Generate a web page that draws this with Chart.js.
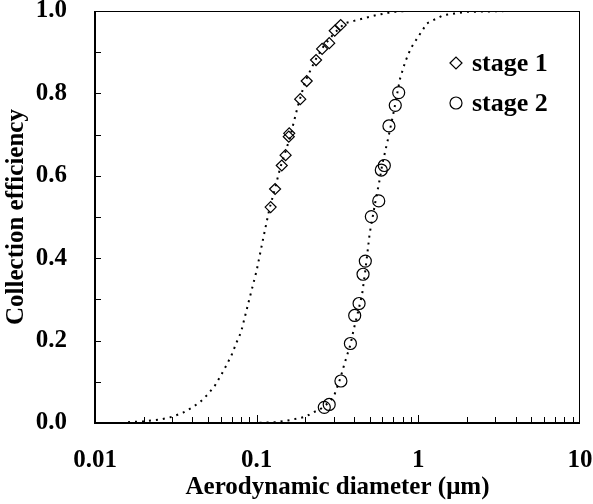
<!DOCTYPE html>
<html>
<head>
<meta charset="utf-8">
<script src="https://cdn.jsdelivr.net/npm/chart.js@4.4.0/dist/chart.umd.min.js"></script>
<style>
  html, body { margin: 0; padding: 0; background: #fff; }
</style>
</head>
<body>
<canvas id="effChart" width="593" height="504"></canvas>
<script>
// measured points
const stage1X = [0.122, 0.130, 0.143, 0.151, 0.158, 0.159, 0.186, 0.204, 0.233, 0.254, 0.281, 0.304, 0.331];
const stage1Y = [0.524, 0.568, 0.625, 0.650, 0.695, 0.703, 0.786, 0.830, 0.881, 0.908, 0.922, 0.952, 0.966];
const stage2X = [0.262, 0.281, 0.332, 0.380, 0.404, 0.430, 0.455, 0.470, 0.512, 0.569, 0.590, 0.616, 0.658, 0.720, 0.756];
const stage2Y = [0.038, 0.045, 0.102, 0.193, 0.261, 0.290, 0.361, 0.393, 0.501, 0.539, 0.614, 0.625, 0.721, 0.771, 0.802];

// dotted fit curves
const curve1X = [0.016, 0.020, 0.025, 0.030, 0.035, 0.040, 0.045, 0.050, 0.055, 0.060, 0.065, 0.070, 0.075, 0.080, 0.090, 0.100, 0.110, 0.120, 0.130, 0.140, 0.160, 0.180, 0.200, 0.230, 0.260, 0.300, 0.350, 0.400, 0.550, 0.700, 0.850];
const curve1Y = [0.002, 0.004, 0.008, 0.015, 0.025, 0.038, 0.052, 0.070, 0.090, 0.115, 0.140, 0.165, 0.195, 0.220, 0.300, 0.370, 0.450, 0.520, 0.570, 0.620, 0.690, 0.770, 0.830, 0.880, 0.915, 0.945, 0.970, 0.976, 0.990, 0.998, 1.000];
const curve2X = [0.07, 0.10, 0.13, 0.16, 0.20, 0.22, 0.25, 0.28, 0.30, 0.33, 0.35, 0.38, 0.40, 0.43, 0.45, 0.47, 0.49, 0.50, 0.55, 0.57, 0.60, 0.65, 0.70, 0.77, 0.83, 0.90, 1.00, 1.13, 1.43, 2.00, 3.70];
const curve2Y = [0.000, 0.000, 0.002, 0.007, 0.015, 0.024, 0.035, 0.050, 0.064, 0.110, 0.145, 0.190, 0.230, 0.280, 0.315, 0.370, 0.430, 0.460, 0.550, 0.580, 0.630, 0.690, 0.750, 0.835, 0.877, 0.910, 0.938, 0.970, 0.990, 0.998, 1.000];

const seriesNames = ['stage 1', 'stage 2'];

const xTickValues = [0.01, 0.1, 1, 10];
const xTickLabels = ['0.01', '0.1', '1', '10'];
const xMinorSteps = [2, 3, 4, 5, 6, 7, 8, 9];
const yTickValues = [0, 0.2, 0.4, 0.6, 0.8, 1.0];
const yTickLabels = ['0.0', '0.2', '0.4', '0.6', '0.8', '1.0'];
const yMinorValues = [0.1, 0.3, 0.5, 0.7, 0.9];

const FONT_FAMILY = "'Liberation Serif', 'Times New Roman', serif";

function toPoints(xs, ys) {
    return xs.map((x, i) => ({ x: x, y: ys[i] }));
}

// box frame + inward ticks
const framePlugin = {
    id: 'frame',
    afterDatasetsDraw(chart) {
        const ctx = chart.ctx;
        const a = chart.chartArea;
        const xs = chart.scales.x;
        const ys = chart.scales.y;
        ctx.save();
        ctx.strokeStyle = '#000';

        ctx.lineWidth = 1;
        ctx.beginPath();
        ctx.moveTo(a.left, a.top + 0.5);
        ctx.lineTo(a.right, a.top + 0.5);
        ctx.moveTo(a.right - 0.5, a.top);
        ctx.lineTo(a.right - 0.5, a.bottom);
        ctx.stroke();

        ctx.lineWidth = 1;
        ctx.beginPath();
        yMinorValues.concat(yTickValues.slice(1, -1)).forEach(v => {
            const py = Math.round(ys.getPixelForValue(v)) + 0.5;
            ctx.moveTo(a.left, py);
            ctx.lineTo(a.left + 6, py);
        });
        xTickValues.forEach(d => {
            if (d > xTickValues[0] && d < xTickValues[xTickValues.length - 1]) {
                const px = Math.round(xs.getPixelForValue(d)) + 0.5;
                ctx.moveTo(px, a.bottom);
                ctx.lineTo(px, a.bottom - 8);
            }
            if (d < xTickValues[xTickValues.length - 1]) {
                xMinorSteps.forEach(m => {
                    const px = Math.round(xs.getPixelForValue(d * m)) + 0.5;
                    ctx.moveTo(px, a.bottom);
                    ctx.lineTo(px, a.bottom - 6);
                });
            }
        });
        ctx.stroke();

        ctx.lineWidth = 2;
        ctx.beginPath();
        ctx.moveTo(a.left, a.top);
        ctx.lineTo(a.left, a.bottom);
        ctx.lineTo(a.right, a.bottom);
        ctx.stroke();
        ctx.restore();
    }
};

// legend inside the plot, top right
const legendPlugin = {
    id: 'innerLegend',
    afterDatasetsDraw(chart) {
        const ctx = chart.ctx;
        const a = chart.chartArea;
        const items = chart.data.datasets.filter(ds => ds.inLegend);
        ctx.save();
        ctx.font = 'bold 26px ' + FONT_FAMILY;
        ctx.textBaseline = 'middle';
        items.forEach((ds, i) => {
            const x = a.right - 124;
            const y = a.top + 52 + i * 40;
            ctx.strokeStyle = '#000';
            ctx.lineWidth = 1.2;
            ctx.beginPath();
            if (ds.pointStyle === 'rectRot') {
                ctx.moveTo(x - 6, y);
                ctx.lineTo(x, y - 6);
                ctx.lineTo(x + 6, y);
                ctx.lineTo(x, y + 6);
                ctx.closePath();
            } else {
                ctx.arc(x, y, 6, 0, Math.PI * 2);
            }
            ctx.stroke();
            ctx.fillStyle = '#000';
            ctx.fillText(ds.label, x + 16, y + 1);
        });
        ctx.restore();
    }
};

const ctx = document.getElementById('effChart').getContext('2d');

new Chart(ctx, {
    type: 'scatter',
    data: {
        datasets: [
            {
                label: 'fit 1',
                data: toPoints(curve1X, curve1Y),
                showLine: true,
                borderColor: '#000',
                borderWidth: 2,
                borderDash: [2, 5],
                pointRadius: 0,
                fill: false
            },
            {
                label: 'fit 2',
                data: toPoints(curve2X, curve2Y),
                showLine: true,
                borderColor: '#000',
                borderWidth: 2,
                borderDash: [2, 5],
                pointRadius: 0,
                fill: false
            },
            {
                label: seriesNames[0],
                inLegend: true,
                data: toPoints(stage1X, stage1Y),
                pointStyle: 'rectRot',
                pointRadius: 5.5,
                borderColor: '#000',
                borderWidth: 1.2,
                backgroundColor: 'rgba(0,0,0,0)'
            },
            {
                label: seriesNames[1],
                inLegend: true,
                data: toPoints(stage2X, stage2Y),
                pointStyle: 'circle',
                pointRadius: 6,
                borderColor: '#000',
                borderWidth: 1.2,
                backgroundColor: 'rgba(0,0,0,0)'
            }
        ]
    },
    options: {
        responsive: false,
        animation: false,
        layout: { padding: { left: 0, right: 13, top: 11, bottom: 0 } },
        plugins: {
            legend: { display: false },
            tooltip: { enabled: false }
        },
        scales: {
            x: {
                type: 'logarithmic',
                min: 0.01,
                max: 10,
                afterBuildTicks: scale => {
                    scale.ticks = xTickValues.map(v => ({ value: v }));
                },
                afterFit: scale => {
                    scale.height = 81;
                    scale.paddingLeft = 0;
                    scale.paddingRight = 0;
                },
                grid: { display: false, drawTicks: false },
                border: { display: false },
                ticks: {
                    autoSkip: false,
                    maxRotation: 0,
                    padding: 23,
                    color: '#000',
                    font: { family: FONT_FAMILY, size: 25, weight: 'bold', lineHeight: 1.2 },
                    callback: (v, i) => xTickLabels[i]
                },
                title: {
                    display: true,
                    text: 'Aerodynamic diameter (\u03bcm)',
                    color: '#000',
                    padding: { top: 0, bottom: 1 },
                    font: { family: FONT_FAMILY, size: 25, weight: 'bold', lineHeight: 1.2 }
                }
            },
            y: {
                min: 0,
                max: 1,
                afterBuildTicks: scale => {
                    scale.ticks = yTickValues.map(v => ({ value: v }));
                },
                afterFit: scale => {
                    scale.width = 95;
                    scale.paddingTop = 0;
                    scale.paddingBottom = 0;
                },
                grid: { display: false, drawTicks: false },
                border: { display: false },
                ticks: {
                    padding: 28,
                    color: '#000',
                    font: { family: FONT_FAMILY, size: 25, weight: 'bold', lineHeight: 0.9 },
                    callback: (v, i) => yTickLabels[i]
                },
                title: {
                    display: true,
                    text: 'Collection efficiency',
                    color: '#000',
                    padding: { top: 2, bottom: 0 },
                    font: { family: FONT_FAMILY, size: 25, weight: 'bold', lineHeight: 1.2 }
                }
            }
        }
    },
    plugins: [framePlugin, legendPlugin]
});
</script>
</body>
</html>
